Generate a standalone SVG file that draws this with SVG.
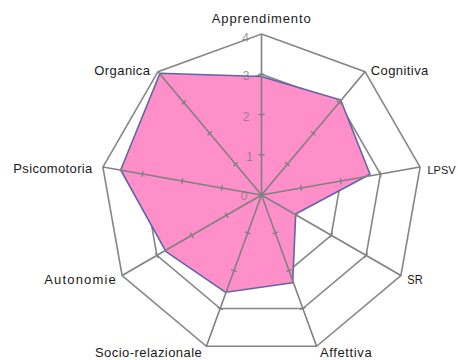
<svg xmlns="http://www.w3.org/2000/svg" xmlns:xlink="http://www.w3.org/1999/xlink" width="458" height="360" viewBox="0 0 458 360">
<style>
.ring{fill:none;stroke:#868686;stroke-width:1.6;stroke-linejoin:miter}
.ax{stroke:#808080;stroke-width:1.6;fill:none}
.tk{stroke:#808080;stroke-width:1.4}
.data{fill:#FF8FC8;stroke:#6264A8;stroke-width:1.6;stroke-linejoin:round}
.lbl{font-family:"Liberation Sans",Arial,sans-serif;font-size:13px;fill:#1a1a1a}
.num{font-family:"Liberation Sans",Arial,sans-serif;font-size:12px;fill:#7a7a7a;fill-opacity:0.8;text-anchor:middle}
</style>
<defs>
<g id="axis">
<line class="ax" x1="261.5" y1="195" x2="261.5" y2="34"/>
<line class="tk" x1="258.5" y1="154.75" x2="264.5" y2="154.75"/>
<line class="tk" x1="258.5" y1="114.5" x2="264.5" y2="114.5"/>
<line class="tk" x1="258.5" y1="74.25" x2="264.5" y2="74.25"/>
</g>
</defs>
<rect width="458" height="360" fill="#fff"/>
<g id="rings">
<polygon class="ring" points="261.5,34 365,71.7 420.1,167.05 400.9,275.5 316.6,346.3 206.4,346.3 122.1,275.5 102.9,167.05 158,71.7"/>
<polygon class="ring" points="261.5,74.25 339.1,102.5 380.4,174.04 366.1,255.4 302.8,308.5 220.2,308.5 156.9,255.4 142.6,174.04 183.9,102.5"/>
<polygon class="ring" points="261.5,114.5 313.2,133.3 340.8,181 331.2,235.25 289,270.6 234,270.6 191.8,235.25 182.2,181 209.8,133.3"/>
<polygon class="ring" points="261.5,154.75 287.4,164.2 301.1,188 296.4,215.1 275.3,232.8 247.7,232.8 226.6,215.1 221.9,188 235.7,164.2"/>
</g>
<g id="series">
<polygon class="data" points="261.2,76.5 340.7,100 370,174.3 295.7,214 292.7,282.7 225.7,292.3 166,251.7 120.7,170 160,73.3"/>
</g>
<g id="axes">
<use xlink:href="#axis"/>
<use xlink:href="#axis" transform="rotate(40 261.5 195)"/>
<use xlink:href="#axis" transform="rotate(80 261.5 195)"/>
<use xlink:href="#axis" transform="rotate(120 261.5 195)"/>
<use xlink:href="#axis" transform="rotate(160 261.5 195)"/>
<use xlink:href="#axis" transform="rotate(200 261.5 195)"/>
<use xlink:href="#axis" transform="rotate(240 261.5 195)"/>
<use xlink:href="#axis" transform="rotate(280 261.5 195)"/>
<use xlink:href="#axis" transform="rotate(320 261.5 195)"/>
</g>
<g id="scale">
<text class="num" x="245.7" y="41.7">4</text>
<text class="num" x="246.2" y="80">3</text>
<text class="num" x="246.2" y="120.5">2</text>
<text class="num" x="249.7" y="161">1</text>
<text class="num" x="244" y="200">0</text>
</g>
<g id="labels">
<text class="lbl" x="211.7" y="23" textLength="99" lengthAdjust="spacing">Apprendimento</text>
<text class="lbl" x="370.7" y="75" textLength="57.6" lengthAdjust="spacing">Cognitiva</text>
<text class="lbl" x="427.5" y="173.5" style="font-size:11.5px" textLength="28" lengthAdjust="spacingAndGlyphs">LPSV</text>
<text class="lbl" x="407.3" y="284" textLength="15.4" lengthAdjust="spacingAndGlyphs">SR</text>
<text class="lbl" x="320" y="356.5" textLength="51.7" lengthAdjust="spacing">Affettiva</text>
<text class="lbl" x="95" y="356.5" textLength="106.7" lengthAdjust="spacing">Socio-relazionale</text>
<text class="lbl" x="44.3" y="284.3" textLength="71.4" lengthAdjust="spacing">Autonomie</text>
<text class="lbl" x="13.3" y="172.7" textLength="79" lengthAdjust="spacing">Psicomotoria</text>
<text class="lbl" x="94.3" y="75" textLength="55.7" lengthAdjust="spacing">Organica</text>
</g>
</svg>
